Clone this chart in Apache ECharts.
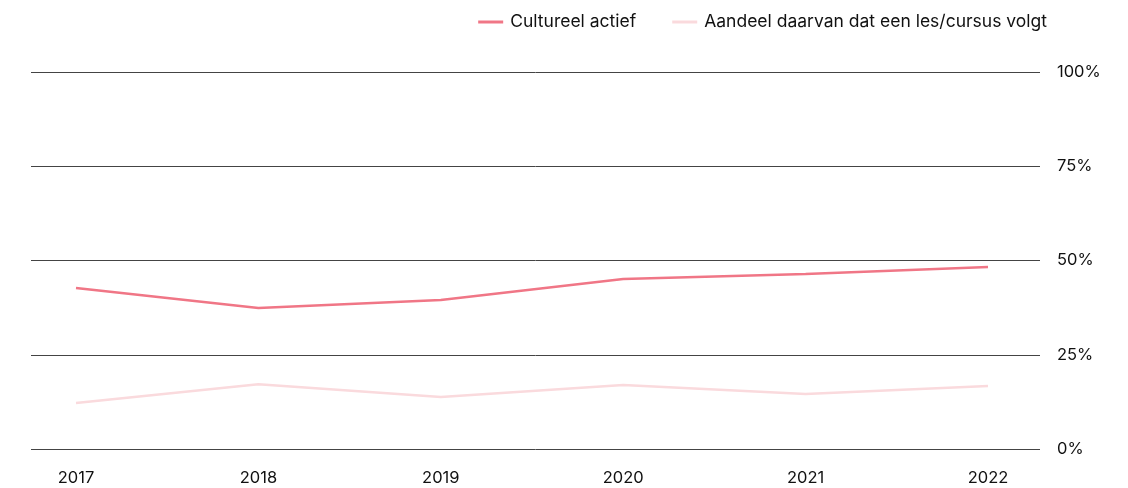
<!DOCTYPE html>
<html><head><meta charset="utf-8">
<script src="https://cdn.jsdelivr.net/npm/echarts@6/dist/echarts.min.js"></script>
<style>html,body{margin:0;padding:0;background:#fff}#c{width:1128px;height:488px}</style>
</head><body><div id="c"></div>
<script>
const years = ['2017','2018','2019','2020','2021','2022'];
const cultureelActief = [42.7, 37.4, 39.5, 45.1, 46.4, 48.3];
const lesCursus = [12.2, 17.2, 13.8, 17.0, 14.6, 16.7];
const seriesNames = ['Cultureel actief', 'Aandeel daarvan dat een les/cursus volgt'];
const yTicks = [0, 25, 50, 75, 100];

const font = 'Inter, "Noto Sans", sans-serif';
const chart = echarts.init(document.getElementById('c'));
chart.setOption({
  animation: false,
  textStyle: {fontFamily: font},
  legend: {
    top: 8, right: 76, itemGap: 36, itemWidth: 25, itemHeight: 3, icon: 'rect',
    textStyle: {fontSize: 17.5, color: '#111', fontFamily: font, padding: [0, 0, 0, 2]},
    data: seriesNames
  },
  grid: [
    {left: 31, right: 88, top: 72, bottom: 39},
    {left: 76, right: 140, top: 72, bottom: 39}
  ],
  xAxis: [
    {gridIndex: 0, type: 'category', data: years, show: false},
    {gridIndex: 1, type: 'category', data: years, boundaryGap: false,
     axisLine: {show: false}, axisTick: {show: false},
     axisLabel: {color: '#111', fontSize: 16.5, margin: 21, fontFamily: font}}
  ],
  yAxis: [
    {gridIndex: 0, type: 'value', position: 'right', min: 0, max: 100, interval: 25,
     axisLine: {show: false}, axisTick: {show: false},
     splitLine: {lineStyle: {color: '#444', width: 1}},
     axisLabel: {color: '#111', fontSize: 16.5, margin: 17, fontFamily: font, padding: [4, 0, 0, 0],
       formatter: v => yTicks.includes(v) ? v + '%' : ''}},
    {gridIndex: 1, type: 'value', min: 0, max: 100, interval: 25, show: false}
  ],
  series: [
    {name: seriesNames[0], type: 'line', xAxisIndex: 1, yAxisIndex: 1, data: cultureelActief,
     symbol: 'none', lineStyle: {color: '#f07686', width: 2.5}, itemStyle: {color: '#f07686'}},
    {name: seriesNames[1], type: 'line', xAxisIndex: 1, yAxisIndex: 1, data: lesCursus,
     symbol: 'none', lineStyle: {color: '#fadadd', width: 2.5}, itemStyle: {color: '#fadadd'}}
  ]
});
</script></body></html>
